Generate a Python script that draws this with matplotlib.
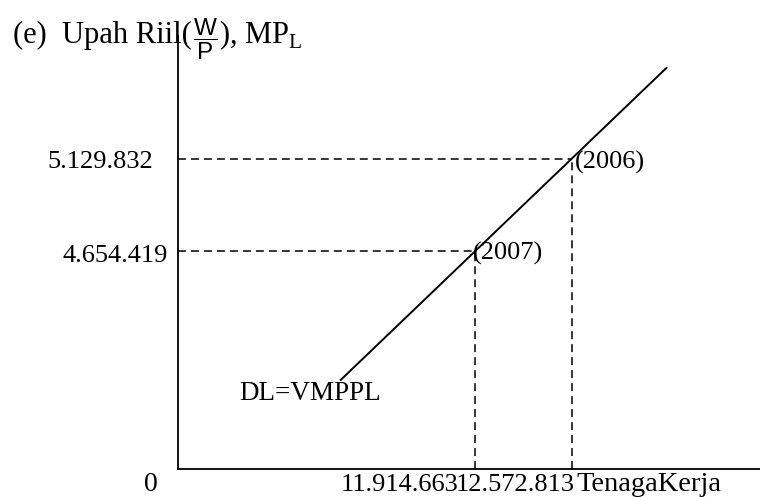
import matplotlib.pyplot as plt
import matplotlib.transforms as mtransforms

plt.rcParams['font.family'] = ['Liberation Serif', 'DejaVu Serif']
plt.rcParams['mathtext.fontset'] = 'custom'
plt.rcParams['mathtext.rm'] = 'Liberation Serif'
plt.rcParams['mathtext.sf'] = 'Liberation Sans'

# Tenaga kerja (L) dan upah riil (W/P) per tahun
years = ['2007', '2006']
labor = [11914663, 12572813]
wage = [4654419, 5129832]

# ujung garis DL=VMPPL (sumbu tenaga kerja)
dl_x = [11.0e6, 13.22e6]


def fmt(v):
    return f"{v:,}".replace(',', '.')


fig = plt.figure(figsize=(7.6, 4.97), dpi=100)
ax = fig.add_axes([0.2342, 0.0563, 0.7658, 0.8712])
ax.set_xlim(9.9e6, 13.85e6)
ax.set_ylim(3.541e6, 5.757e6)

for s in ['top', 'right']:
    ax.spines[s].set_visible(False)
for s in ['left', 'bottom']:
    ax.spines[s].set_linewidth(1.3)
ax.set_xticks([])
ax.set_yticks([])

# garis permintaan tenaga kerja melalui kedua titik
slope = (wage[1] - wage[0]) / (labor[1] - labor[0])
dl_y = [wage[0] + slope * (x - labor[0]) for x in dl_x]
ax.plot(dl_x, dl_y, color='black', lw=1.4, solid_capstyle='butt')

# garis bantu putus-putus
x0, y0 = ax.get_xlim()[0], ax.get_ylim()[0]
for L, W in zip(labor, wage):
    ax.plot([x0, L], [W, W], color='black', lw=1.1, dashes=(5.2, 3.3))
    ax.plot([L, L], [y0, W], color='black', lw=1.1, dashes=(5.2, 3.3))

fs = 19
ytrans = mtransforms.blended_transform_factory(ax.transAxes, ax.transData)
xtrans = mtransforms.blended_transform_factory(ax.transData, ax.transAxes)

# label sumbu upah
y_off = [(-10, -10.5), (-25, -9)]
for W, (dx, dy) in zip(wage, y_off):
    ax.annotate(fmt(W), (0, W), xycoords=ytrans, xytext=(dx, dy),
                textcoords='offset pixels', ha='right', va='baseline',
                fontsize=fs, annotation_clip=False)

# label sumbu tenaga kerja
x_off = [-16, 3]
for L, dx in zip(labor, x_off):
    ax.annotate(fmt(L), (L, 0), xycoords=xtrans, xytext=(dx, -22),
                textcoords='offset pixels', ha='right', va='baseline',
                fontsize=fs, annotation_clip=False)
ax.annotate('TenagaKerja', (labor[1], 0), xycoords=xtrans, xytext=(5, -22),
            textcoords='offset pixels', ha='left', va='baseline',
            fontsize=fs + 1.5, annotation_clip=False)
ax.annotate('0', (0, 0), xycoords='axes fraction', xytext=(-27, -22),
            textcoords='offset pixels', ha='center', va='baseline',
            fontsize=fs + 1, annotation_clip=False)

# label tahun pada titik
yr_off = [(-2, -8.5), (3, -10)]
for L, W, yr, (dx, dy) in zip(labor, wage, years, yr_off):
    ax.annotate(f'({yr})', (L, W), xytext=(dx, dy), textcoords='offset pixels',
                ha='left', va='baseline', fontsize=fs)

ax.annotate('DL=VMPPL', (dl_x[0], dl_y[0]), xytext=(-101, -19),
            textcoords='offset pixels', ha='left', va='baseline',
            fontsize=fs + 0.5)

# judul sumbu tegak: teks + pecahan W/P yang lebih kecil + MP_L
W_px, H_px = fig.bbox.width, fig.bbox.height
base_y = 1 - 43 / H_px
parts = [('(e)  Upah Riil(', 22, 0, 0),
         (r'$\dfrac{\mathsf{W}}{\mathsf{P}}$', 17.5, 1, -4),
         ('), MP$_{\mathrm{L}}$', 22, 1, 0)]
x = 13 / W_px
renderer = fig.canvas.get_renderer()
for txt, size, gap, dy in parts:
    t = fig.text(x + gap / W_px, base_y + dy / H_px, txt,
                 ha='left', va='baseline', fontsize=size)
    x = t.get_window_extent(renderer).x1 / W_px

fig.savefig('out.png', dpi=100)
